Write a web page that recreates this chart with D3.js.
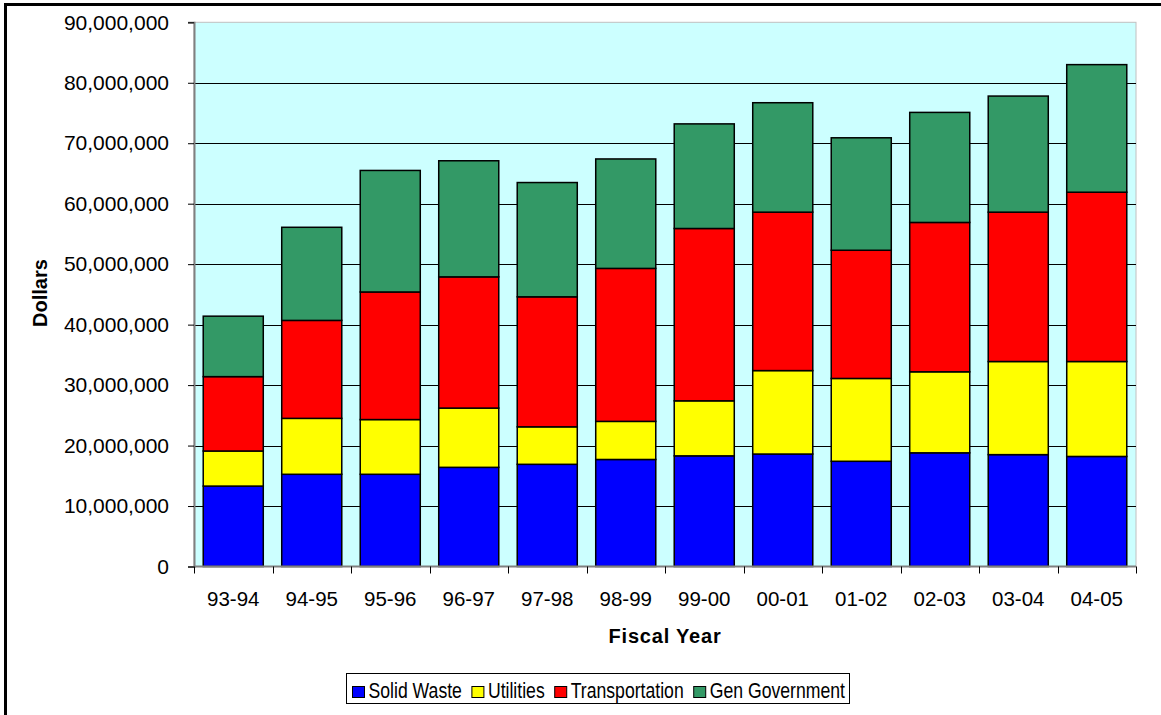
<!DOCTYPE html>
<html>
<head>
<meta charset="utf-8">
<script src="https://cdn.jsdelivr.net/npm/d3@7"></script>
<style>
  html, body { margin: 0; padding: 0; background: #ffffff; }
  svg { display: block; font-family: "Liberation Sans", Arial, sans-serif; }
</style>
</head>
<body>
<svg id="chart" width="1161" height="715"></svg>
<script>
// Fiscal years on the x axis
const years = ["93-94", "94-95", "95-96", "96-97", "97-98", "98-99",
               "99-00", "00-01", "01-02", "02-03", "03-04", "04-05"];

// Spending by category, in millions of dollars
const solidWaste     = [13.3, 15.25, 15.25, 16.4, 16.9, 17.7, 18.3, 18.6, 17.4, 18.8, 18.5, 18.2];
const utilities      = [5.8, 9.25, 9.05, 9.8, 6.2, 6.3, 9.1, 13.8, 13.7, 13.4, 15.4, 15.7];
const transportation = [12.3, 16.2, 21.1, 21.7, 21.5, 25.3, 28.5, 26.2, 21.2, 24.7, 24.7, 28.0];
const genGovernment  = [10.0, 15.4, 20.1, 19.2, 18.9, 18.1, 17.3, 18.1, 18.6, 18.2, 19.2, 21.1];

const seriesNames  = ["Solid Waste", "Utilities", "Transportation", "Gen Government"];
const seriesColors = ["#0000FF", "#FFFF00", "#FF0000", "#339966"];

// Y axis ticks, dollars
const yTicks = [0, 10e6, 20e6, 30e6, 40e6, 50e6, 60e6, 70e6, 80e6, 90e6];

const svg = d3.select("#chart");

// Outer chart frame (only top and left edges fall inside the window)
svg.append("rect")
  .attr("x", 5.5).attr("y", 4.5)
  .attr("width", 1300).attr("height", 900)
  .attr("fill", "none").attr("stroke", "#000").attr("stroke-width", 3);

const plot = { left: 194, right: 1136, top: 22.3, bottom: 566.5 };

const table = years.map((y, i) => ({
  year: y,
  "Solid Waste": solidWaste[i] * 1e6,
  "Utilities": utilities[i] * 1e6,
  "Transportation": transportation[i] * 1e6,
  "Gen Government": genGovernment[i] * 1e6
}));
const stacked = d3.stack().keys(seriesNames)(table);

const x = d3.scaleBand().domain(years)
  .range([plot.left, plot.right])
  .paddingInner(0.235).paddingOuter(0.1175);
const y = d3.scaleLinear().domain([0, 90e6]).range([plot.bottom, plot.top]);

// Plot background
svg.append("rect")
  .attr("x", plot.left).attr("y", plot.top)
  .attr("width", plot.right - plot.left).attr("height", plot.bottom - plot.top)
  .attr("fill", "#CCFFFF").attr("stroke", "#C0C0C0").attr("stroke-width", 1);

// Horizontal gridlines
svg.append("g").selectAll("line")
  .data(yTicks.filter(t => t > 0 && t < 90e6))
  .join("line")
  .attr("x1", plot.left).attr("x2", plot.right)
  .attr("y1", d => Math.round(y(d)) + 0.5).attr("y2", d => Math.round(y(d)) + 0.5)
  .attr("stroke", "#000").attr("stroke-width", 1);

// Stacked bars
svg.append("g").selectAll("g")
  .data(stacked)
  .join("g")
  .attr("fill", (d, i) => seriesColors[i])
  .selectAll("rect")
  .data(d => d)
  .join("rect")
  .attr("x", d => x(d.data.year))
  .attr("width", x.bandwidth())
  .attr("y", d => y(d[1]))
  .attr("height", d => y(d[0]) - y(d[1]))
  .attr("stroke", "#000").attr("stroke-width", 1.5);

// Y axis
const yAxis = d3.axisLeft(y)
  .tickValues(yTicks)
  .tickSize(6)
  .tickPadding(19)
  .tickFormat(d3.format(",.0f"));
const gy = svg.append("g").attr("transform", `translate(${plot.left},0)`).call(yAxis);
gy.select(".domain").attr("stroke", "#808080").attr("stroke-width", 2);
gy.selectAll(".tick line").attr("stroke", "#000");
gy.selectAll(".tick text")
  .attr("font-size", 21).attr("fill", "#000")
  .attr("font-family", "'Liberation Sans', Arial, sans-serif");

// X axis: ticks at category boundaries
const gx = svg.append("g").attr("transform", `translate(0,${plot.bottom})`);
gx.append("line")
  .attr("x1", plot.left).attr("x2", plot.right)
  .attr("y1", 0).attr("y2", 0)
  .attr("stroke", "#808080").attr("stroke-width", 2);
const boundaries = d3.range(years.length + 1).map(i => plot.left + i * (plot.right - plot.left) / years.length);
gx.selectAll("line.tk").data(boundaries).join("line")
  .attr("class", "tk")
  .attr("x1", d => Math.round(d) + 0.5).attr("x2", d => Math.round(d) + 0.5)
  .attr("y1", 0).attr("y2", 7)
  .attr("stroke", "#000").attr("stroke-width", 1);
gx.selectAll("text").data(years).join("text")
  .attr("x", d => x(d) + x.bandwidth() / 2)
  .attr("y", 39)
  .attr("text-anchor", "middle")
  .attr("font-size", 20.5)
  .text(d => d);

// Axis titles
svg.append("text")
  .attr("x", 665).attr("y", 643)
  .attr("text-anchor", "middle")
  .attr("font-size", 20).attr("font-weight", "bold")
  .attr("letter-spacing", 0.8)
  .text("Fiscal Year");

svg.append("text")
  .attr("transform", "translate(47,293) rotate(-90)")
  .attr("text-anchor", "middle")
  .attr("font-size", 20).attr("font-weight", "bold")
  .text("Dollars");

// Legend (labels set in a tall, narrow face)
const legend = svg.append("g");
legend.append("rect")
  .attr("x", 346.5).attr("y", 673.5)
  .attr("width", 503).attr("height", 30)
  .attr("fill", "#fff").attr("stroke", "#000").attr("stroke-width", 1);

const squeeze = 0.82;
let lx = 352;
seriesNames.forEach((name, i) => {
  legend.append("rect")
    .attr("x", lx + 0.5).attr("y", 686.5)
    .attr("width", 12).attr("height", 11)
    .attr("fill", seriesColors[i]).attr("stroke", "#000").attr("stroke-width", 1);
  const t = legend.append("text")
    .attr("transform", `translate(${lx + 16.5},698) scale(${squeeze},1)`)
    .attr("font-size", 21.5)
    .text(name);
  lx += 16.5 + t.node().getComputedTextLength() * squeeze + 9.5;
});
</script>
</body>
</html>
